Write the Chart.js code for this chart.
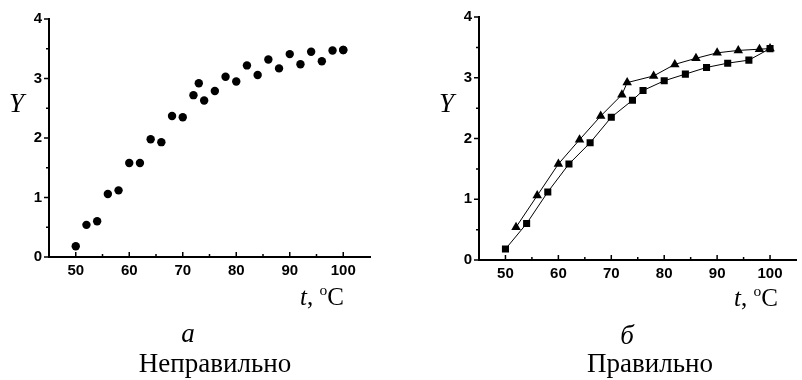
<!DOCTYPE html>
<html>
<head>
<meta charset="utf-8">
<script src="https://cdn.jsdelivr.net/npm/chart.js@4/dist/chart.umd.min.js"></script>
<style>
  html, body { margin:0; padding:0; background:#fff; }
  #wrap { position:relative; width:802px; height:380px; overflow:hidden; background:#fff; }
  canvas { position:absolute; top:0; }
  .txt { position:absolute; font-family:"Liberation Serif","Times New Roman",serif; line-height:1; color:#000; white-space:nowrap; }
  .c { text-align:center; width:200px; }
  .it { font-style:italic; }
  .sup { position:relative; top:-0.62em; font-size:0.62em; }
</style>
</head>
<body>
<div id="wrap">
  <canvas id="cA" width="400" height="380" style="left:0px"></canvas>
  <canvas id="cB" width="402" height="380" style="left:400px"></canvas>

  <div class="txt it" style="left:9px; top:90px; font-size:27px;">Y</div>
  <div class="txt" style="left:300px; top:284px; font-size:25px;"><span class="it">t</span>, <span class="sup">o</span>C</div>
  <div class="txt c it" style="left:88px; top:320px; font-size:27px;">a</div>
  <div class="txt c" style="left:115px; top:350px; font-size:27px;">Неправильно</div>

  <div class="txt it" style="left:439px; top:90px; font-size:27px;">Y</div>
  <div class="txt" style="left:734px; top:285px; font-size:25px;"><span class="it">t</span>, <span class="sup">o</span>C</div>
  <div class="txt c it" style="left:527px; top:322px; font-size:27px;">б</div>
  <div class="txt c" style="left:550px; top:350px; font-size:27px;">Правильно</div>
</div>
<script>
// ---- data ----
const tTri = [52, 56, 60, 64, 68, 72, 73, 78, 82, 86, 90, 94, 98, 100];
const yTri = [0.54, 1.06, 1.58, 1.98, 2.37, 2.72, 2.92, 3.03, 3.22, 3.32, 3.41, 3.45, 3.47, 3.48];
const tSq  = [50, 54, 58, 62, 66, 70, 74, 76, 80, 84, 88, 92, 96, 100];
const ySq  = [0.18, 0.60, 1.12, 1.58, 1.93, 2.35, 2.63, 2.79, 2.95, 3.06, 3.17, 3.24, 3.29, 3.48];

const xTicks = [50, 60, 70, 80, 90, 100];
const xMinorTicks = [55, 65, 75, 85, 95];
const yTicks = [0, 1, 2, 3, 4];
const yMinorTicks = [0.5, 1.5, 2.5, 3.5];
const xRange = [45, 105];
const yRange = [0, 4];

function pts(xs, ys) { return xs.map((x, i) => ({ x: x, y: ys[i] })); }

const tickPlugin = {
  id: 'ticksInOut',
  afterDraw(chart) {
    const ctx = chart.ctx, xs = chart.scales.x, ys = chart.scales.y;
    const ca = chart.chartArea;
    ctx.save();
    ctx.strokeStyle = '#000';
    ctx.lineWidth = 1.5;
    ctx.beginPath();
    xTicks.forEach(v => { const p = xs.getPixelForValue(v); ctx.moveTo(p, ca.bottom); ctx.lineTo(p, ca.bottom - 5); });
    xMinorTicks.forEach(v => { const p = xs.getPixelForValue(v); ctx.moveTo(p, ca.bottom); ctx.lineTo(p, ca.bottom - 3); });
    yTicks.forEach(v => { const p = ys.getPixelForValue(v); ctx.moveTo(ca.left, p); ctx.lineTo(ca.left - 5, p); });
    yMinorTicks.forEach(v => { const p = ys.getPixelForValue(v); ctx.moveTo(ca.left, p); ctx.lineTo(ca.left - 3, p); });
    ctx.stroke();
    ctx.restore();
  }
};

function makeOptions(yWidth, pad) {
  const font = { family: '"Liberation Sans", Arial, sans-serif', size: 15, weight: 'bold' };
  return {
    responsive: false,
    animation: false,
    events: [],
    layout: { padding: pad },
    plugins: { legend: { display: false }, tooltip: { enabled: false } },
    scales: {
      x: {
        type: 'linear', min: xRange[0], max: xRange[1],
        afterBuildTicks: s => { s.ticks = xTicks.map(v => ({ value: v })); },
        afterFit: s => { s.height = 30; },
        grid: { display: false, drawTicks: false },
        border: { display: true, color: '#000', width: 2 },
        ticks: { color: '#000', font: font, padding: 5, maxRotation: 0, autoSkip: false }
      },
      y: {
        type: 'linear', min: yRange[0], max: yRange[1],
        afterBuildTicks: s => { s.ticks = yTicks.map(v => ({ value: v })); },
        afterFit: s => { s.width = yWidth; },
        grid: { display: false, drawTicks: false },
        border: { display: true, color: '#000', width: 2 },
        ticks: { color: '#000', font: font, padding: 7 }
      }
    }
  };
}

new Chart(document.getElementById('cA'), {
  type: 'scatter',
  data: {
    datasets: [
      { data: pts(tTri, yTri), pointStyle: 'circle', pointRadius: 4.2, backgroundColor: '#000', borderWidth: 0, showLine: false },
      { data: pts(tSq, ySq), pointStyle: 'circle', pointRadius: 4.2, backgroundColor: '#000', borderWidth: 0, showLine: false }
    ]
  },
  options: makeOptions(49, { left: 0, top: 19, right: 30, bottom: 93 }),
  plugins: [tickPlugin]
});

new Chart(document.getElementById('cB'), {
  type: 'scatter',
  data: {
    datasets: [
      { data: pts(tTri, yTri), pointStyle: 'triangle', pointRadius: 5.5, backgroundColor: '#000', pointBorderWidth: 0,
        borderColor: '#000', borderWidth: 1, showLine: true },
      { data: pts(tSq, ySq), pointStyle: 'rect', pointRadius: 5, backgroundColor: '#000', pointBorderWidth: 0,
        borderColor: '#000', borderWidth: 1, showLine: true }
    ]
  },
  options: makeOptions(79, { left: 0, top: 17, right: 5, bottom: 90 }),
  plugins: [tickPlugin]
});
</script>
</body>
</html>
